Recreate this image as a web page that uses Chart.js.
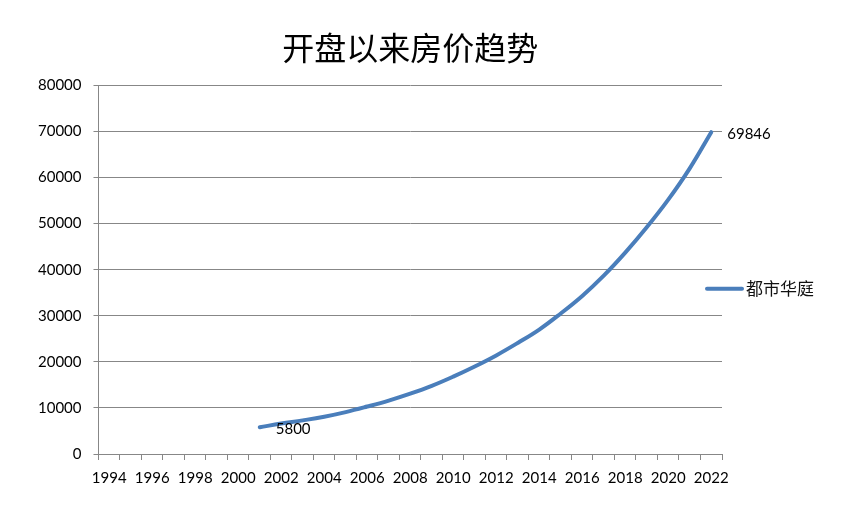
<!DOCTYPE html>
<html>
<head>
<meta charset="utf-8">
<script src="https://cdn.jsdelivr.net/npm/chart.js@4"></script>
<style>
html, body { margin: 0; padding: 0; background: #fff; }
#wrap { width: 849px; height: 509px; position: relative; }
</style>
</head>
<body>
<div id="wrap"><canvas id="trend"></canvas></div>
<script>
const chartTitle = '开盘以来房价趋势';
const seriesName = '都市华庭';
const years = ['1994', '1995', '1996', '1997', '1998', '1999', '2000', '2001', '2002', '2003',
  '2004', '2005', '2006', '2007', '2008', '2009', '2010', '2011', '2012', '2013', '2014',
  '2015', '2016', '2017', '2018', '2019', '2020', '2021', '2022'];
const prices = [null, null, null, null, null, null, null, 5800, 6600, 7300,
  8100, 9100, 10300, 11600, 13100, 14800, 16800, 19000, 21400, 24100, 27000,
  30500, 34300, 38700, 43700, 49200, 55200, 62000, 69846];
const yTicks = [0, 10000, 20000, 30000, 40000, 50000, 60000, 70000, 80000];

const lineColor = '#4A7EBB';
const gridColor = '#878787';
const numFont = 'Lato, "Open Sans", sans-serif';

// labels on first and last point, legend at the right side
const extras = {
  id: 'extras',
  afterDatasetsDraw(chart) {
    const ctx = chart.ctx;
    const meta = chart.getDatasetMeta(0);
    const idx = prices.map((v, i) => v == null ? -1 : i).filter(i => i >= 0);
    const first = idx[0], last = idx[idx.length - 1];
    ctx.save();
    ctx.fillStyle = '#000';
    ctx.font = '15px ' + numFont;
    ctx.textBaseline = 'middle';
    ctx.textAlign = 'left';
    [first, last].forEach(i => {
      const p = meta.data[i];
      ctx.fillText(String(prices[i]), p.x + 16, p.y + 2);
    });

    const a = chart.chartArea;
    const ly = (a.top + a.bottom) / 2 + 19;
    const lx = a.right - 15;
    ctx.strokeStyle = lineColor;
    ctx.lineWidth = 4;
    ctx.lineCap = 'round';
    ctx.beginPath();
    ctx.moveTo(lx, ly);
    ctx.lineTo(lx + 35, ly);
    ctx.stroke();
    ctx.font = '17px "Noto Sans CJK SC", sans-serif';
    ctx.fillStyle = '#111';
    ctx.fillText(seriesName, lx + 39, ly);
    ctx.restore();
  }
};

new Chart(document.getElementById('trend'), {
  type: 'line',
  data: {
    labels: years,
    datasets: [{
      label: seriesName,
      data: prices,
      borderColor: lineColor,
      backgroundColor: lineColor,
      borderWidth: 4,
      borderCapStyle: 'round',
      tension: 0.4,
      pointRadius: 0,
      pointHoverRadius: 0,
      spanGaps: false
    }]
  },
  options: {
    responsive: true,
    maintainAspectRatio: false,
    animation: false,
    layout: { padding: { left: 26, right: 127, top: 0, bottom: 13 } },
    plugins: {
      legend: { display: false },
      tooltip: { enabled: false },
      title: {
        display: true,
        text: chartTitle,
        fullSize: false,
        color: '#000',
        font: { family: '"Noto Sans CJK SC", sans-serif', size: 32, weight: 'normal' },
        padding: { top: 29, bottom: 18 }
      }
    },
    scales: {
      x: {
        type: 'category',
        offset: true,
        grid: { offset: true, drawOnChartArea: false, drawTicks: true, tickLength: 6, color: gridColor },
        border: { color: gridColor },
        ticks: {
          autoSkip: false,
          maxRotation: 0,
          padding: 9,
          color: '#000',
          font: { family: numFont, size: 15 },
          callback(v, i) { return i % 2 === 0 ? years[i] : ''; }
        }
      },
      y: {
        min: 0,
        max: 80000,
        afterBuildTicks(scale) { scale.ticks = yTicks.map(v => ({ value: v })); },
        grid: { color: gridColor, tickLength: 5 },
        border: { color: gridColor },
        ticks: {
          padding: 12,
          color: '#000',
          font: { family: numFont, size: 15 },
          callback(v) { return String(v); }
        }
      }
    }
  },
  plugins: [extras]
});
</script>
</body>
</html>
